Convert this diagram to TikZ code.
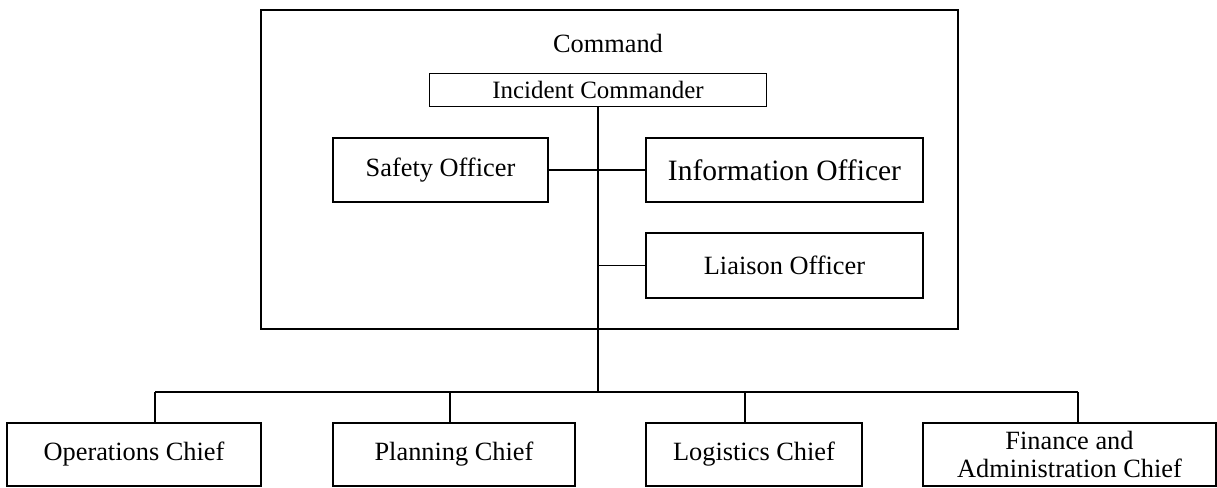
\documentclass[tikz,border=0pt]{standalone}
\usepackage{fontspec}
\setmainfont{Liberation Serif}
\usepackage{tikz}
\usetikzlibrary{positioning, calc}

\begin{document}
\begin{tikzpicture}[x=0.02cm, y=-0.02cm,
    box/.style={draw, line width=1pt, inner sep=0pt, align=center,
        font=\fontsize{15}{16.4}\selectfont},
    link/.style={line width=1pt}]
\useasboundingbox (0,0) rectangle (1217,487);

% Command section
\node[box, minimum width=13.94cm, minimum height=6.38cm] (frame) at (609.5,169.5) {};
\node[font=\fontsize{15}{17}\selectfont] (cmdlabel) at (608,43) {Command};
\node[box, minimum width=6.74cm, minimum height=0.66cm,
    font=\fontsize{14.2}{16}\selectfont] (ic) at (598,90) {Incident Commander};
\node[box, minimum width=4.3cm, minimum height=1.28cm] (safety) at (440.5,170) {Safety Officer};
\node[box, minimum width=5.54cm, minimum height=1.28cm,
    font=\fontsize{16.8}{18}\selectfont] (info) at (784.5,170) {Information Officer};
\node[box, minimum width=5.54cm, minimum height=1.3cm] (liaison) at (784.5,265.5) {Liaison Officer};

% General staff
\node[box, minimum width=5.08cm, minimum height=1.26cm] (ops) at (134,454.5) {Operations Chief};
\node[box, minimum width=4.84cm, minimum height=1.26cm] (plan) at (454,454.5) {Planning Chief};
\node[box, minimum width=4.32cm, minimum height=1.26cm] (logi) at (754,454.5) {Logistics Chief};
\node[box, minimum width=5.86cm, minimum height=1.26cm] (fin) at (1069.5,454.5) {Finance and\\Administration Chief};

% Connectors
\coordinate (bus) at (598,392);
\coordinate (busL) at (155,392);
\coordinate (dropP) at (450,392);
\coordinate (dropL) at (745,392);
\coordinate (busR) at (1078,392);

\draw[link] (ic.south) -- (bus);
\draw[link] (safety.east) -- (info.west);
\draw[link] (liaison.west) -- (liaison.west -| ic.south);
\draw[link] (busL) -- (busR);
\draw[link] (busL) -- (busL |- ops.north);
\draw[link] (dropP) -- (dropP |- plan.north);
\draw[link] (dropL) -- (dropL |- logi.north);
\draw[link] (busR) -- (busR |- fin.north);
\end{tikzpicture}
\end{document}
